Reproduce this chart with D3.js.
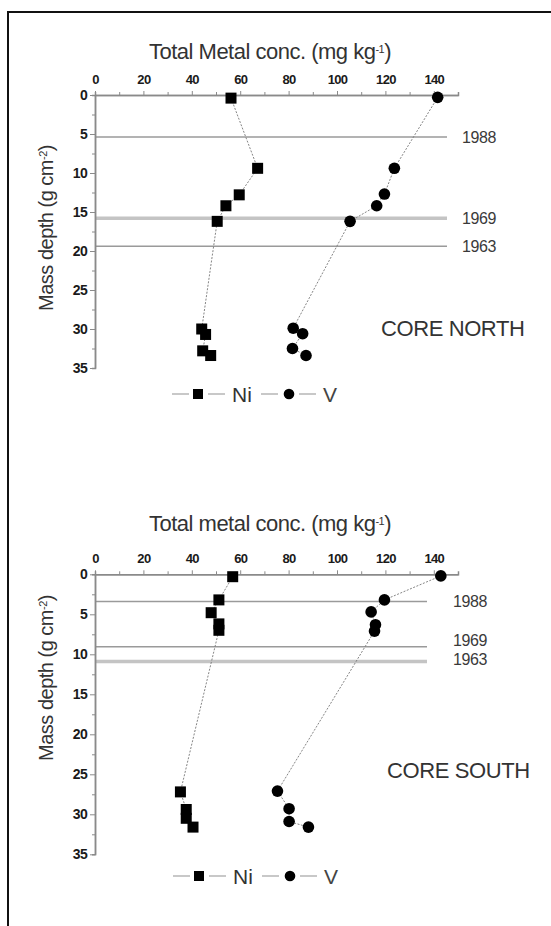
<!DOCTYPE html>
<html>
<head>
<meta charset="utf-8">
<script src="https://cdn.jsdelivr.net/npm/d3@7"></script>
<style>
  body { margin: 0; background: #fff; }
  svg text { font-family: "Liberation Sans", Arial, sans-serif; }
</style>
</head>
<body>
<div id="chart"></div>
<script>
// ---- data ----
var xTicks = [0, 20, 40, 60, 80, 100, 120, 140];
var yTicks = [0, 5, 10, 15, 20, 25, 30, 35];
var yearLabels = ["1988", "1969", "1963"];

// core north
var northNiDepth = [0.4, 9.4, 12.8, 14.2, 16.2, 30.0, 30.7, 32.8, 33.4];
var northNi      = [56.2, 67.2, 59.6, 54.1, 50.5, 44.1, 45.7, 44.5, 47.8];
var northVDepth  = [0.3, 9.4, 12.7, 14.2, 16.2, 29.9, 30.6, 32.5, 33.4];
var northV       = [141.6, 123.7, 119.6, 116.4, 105.4, 81.9, 85.8, 81.6, 87.2];
var northYears   = [5.4, 15.8, 19.4];

// core south
var southNiDepth = [0.3, 3.2, 4.8, 6.2, 7.0, 27.2, 29.4, 30.5, 31.6];
var southNi      = [56.9, 51.2, 48.0, 51.2, 51.2, 35.3, 37.7, 37.7, 40.5];
var southVDepth  = [0.2, 3.2, 4.7, 6.3, 7.1, 27.1, 29.3, 30.9, 31.6];
var southV       = [142.9, 119.6, 114.1, 115.9, 115.5, 75.4, 80.2, 80.2, 88.2];
var southYears   = [3.4, 9.05, 10.9];
var southYearText = [3.4, 8.3, 10.6];   // labels nudged apart in the original

var width = 551, height = 926;

var svg = d3.select("#chart")
  .append("svg")
    .attr("width", width)
    .attr("height", height);

// frame (only top and left edges show in the scan)
svg.append("line").attr("x1", 8).attr("x2", width).attr("y1", 12).attr("y2", 12)
   .attr("stroke", "#111").attr("stroke-width", 2);
svg.append("line").attr("x1", 8).attr("x2", 8).attr("y1", 11).attr("y2", height)
   .attr("stroke", "#111").attr("stroke-width", 2);

function zip(xs, ys) {
  return xs.map(function(v, i) { return {v: v, d: ys[i]}; });
}

function drawPanel(p) {
  var g = svg.append("g");

  var xScale = d3.scaleLinear().domain([0, 150]).range([95, 458]);
  var yScale = d3.scaleLinear().domain([0, 35]).range(p.yRange);

  // title
  var t = g.append("text")
    .attr("x", 270).attr("y", p.titleY)
    .attr("text-anchor", "middle")
    .attr("font-size", "22px")
    .attr("letter-spacing", "-0.5px")
    .attr("fill", "#333")
    .text(p.title + " (mg kg");
  t.append("tspan").attr("baseline-shift", "super").attr("font-size", "11px").text("-1");
  t.append("tspan").text(")");

  // y label
  var yl = g.append("text")
    .attr("transform", "translate(53," + p.yLabelY + ") rotate(-90)")
    .attr("text-anchor", "middle")
    .attr("font-size", "20px")
    .attr("letter-spacing", "-0.5px")
    .attr("fill", "#333")
    .text("Mass depth (g cm");
  yl.append("tspan").attr("baseline-shift", "super").attr("font-size", "11px").text("-2");
  yl.append("tspan").text(")");

  // year horizons
  g.selectAll(".yr")
    .data(p.years)
    .enter()
    .append("line")
      .attr("x1", 95).attr("x2", p.yearEnd)
      .attr("y1", function(d) { return yScale(d); })
      .attr("y2", function(d) { return yScale(d); })
      .attr("stroke", function(d, i) { return i == p.wide ? "#c4c4c4" : "#9a9a9a"; })
      .attr("stroke-width", function(d, i) { return i == p.wide ? 3.5 : 1.5; });

  g.selectAll(".yrlab")
    .data(p.yearText)
    .enter()
    .append("text")
      .attr("x", p.yearLabelX)
      .attr("y", function(d) { return yScale(d); })
      .attr("dy", "0.36em")
      .attr("font-size", "16px")
      .attr("letter-spacing", "-0.4px")
      .attr("fill", "#3a3a3a")
      .text(function(d, i) { return yearLabels[i]; });

  // axes
  var xAxis = g.append("g")
    .attr("transform", "translate(0," + yScale(0) + ")")
    .call(d3.axisTop(xScale).tickValues(xTicks).tickSize(4).tickPadding(7).tickSizeOuter(0));
  var xMinor = g.append("g")
    .attr("transform", "translate(0," + yScale(0) + ")")
    .call(d3.axisTop(xScale).tickValues(d3.range(10, 150, 20)).tickSize(3).tickFormat(""));
  var yAxis = g.append("g")
    .attr("transform", "translate(95,0)")
    .call(d3.axisLeft(yScale).tickValues(yTicks).tickSize(5).tickPadding(3).tickSizeOuter(0));
  var yMinor = g.append("g")
    .attr("transform", "translate(95,0)")
    .call(d3.axisLeft(yScale).tickValues(d3.range(2.5, 35, 5)).tickSize(3).tickFormat(""));

  [xAxis, xMinor, yAxis, yMinor].forEach(function(a) {
    a.select(".domain").attr("stroke", "#8a8a8a").attr("stroke-width", 1.5);
    a.selectAll(".tick line").attr("stroke", "#8a8a8a");
    a.selectAll("text")
      .attr("font-family", "'Liberation Sans', Arial, sans-serif")
      .attr("font-size", "13px")
      .attr("font-weight", "bold")
      .attr("letter-spacing", "-0.7px")
      .attr("fill", "#1a1a1a");
  });
  yAxis.selectAll("text").attr("font-size", "14px");

  // connecting lines
  var line = d3.line()
    .x(function(d) { return xScale(d.v); })
    .y(function(d) { return yScale(d.d); });

  [p.ni, p.vv].forEach(function(s) {
    g.append("path")
      .attr("d", line(s))
      .attr("fill", "none")
      .attr("stroke", "#777")
      .attr("stroke-width", 0.9)
      .attr("stroke-dasharray", "2,1.5");
  });

  // markers
  g.selectAll(".ni")
    .data(p.ni)
    .enter()
    .append("rect")
      .attr("x", function(d) { return xScale(d.v) - 5.5; })
      .attr("y", function(d) { return yScale(d.d) - 5.5; })
      .attr("width", 11).attr("height", 11)
      .attr("fill", "#000");

  g.selectAll(".v")
    .data(p.vv)
    .enter()
    .append("circle")
      .attr("cx", function(d) { return xScale(d.v); })
      .attr("cy", function(d) { return yScale(d.d); })
      .attr("r", 5.8)
      .attr("fill", "#000");

  // core name
  g.append("text")
    .attr("x", p.coreX).attr("y", p.coreY)
    .attr("dy", "0.36em")
    .attr("font-size", "22px")
    .attr("letter-spacing", "-0.4px")
    .attr("fill", "#333")
    .text(p.core);

  // legend
  var lx = p.legendX, ly = p.legendY;
  var lg = g.append("g").attr("transform", "translate(" + lx + "," + ly + ")");
  [[0, 17], [36, 53], [89, 106], [127, 144]].forEach(function(s) {
    lg.append("line").attr("x1", s[0]).attr("x2", s[1]).attr("y1", 0).attr("y2", 0)
      .attr("stroke", "#c8c8c8").attr("stroke-width", 2);
  });
  lg.append("rect").attr("x", 21).attr("y", -5).attr("width", 10).attr("height", 10).attr("fill", "#000");
  lg.append("circle").attr("cx", 117).attr("cy", 0).attr("r", 5.3).attr("fill", "#000");
  lg.append("text").attr("x", 60).attr("y", 0).attr("dy", "0.36em")
    .attr("font-size", "21px").attr("fill", "#333").text("Ni");
  lg.append("text").attr("x", 151).attr("y", 0).attr("dy", "0.36em")
    .attr("font-size", "21px").attr("fill", "#444").text("V");
}

drawPanel({
  title: "Total Metal conc.", titleY: 59,
  yRange: [95, 368], yLabelY: 228,
  years: northYears, yearText: northYears, wide: 1,
  yearEnd: 447, yearLabelX: 462,
  ni: zip(northNi, northNiDepth), vv: zip(northV, northVDepth),
  core: "CORE NORTH", coreX: 381, coreY: 328,
  legendX: 172, legendY: 394
});

drawPanel({
  title: "Total metal conc.", titleY: 531,
  yRange: [574.3, 854.3], yLabelY: 678,
  years: southYears, yearText: southYearText, wide: 2,
  yearEnd: 427, yearLabelX: 453,
  ni: zip(southNi, southNiDepth), vv: zip(southV, southVDepth),
  core: "CORE SOUTH", coreX: 387, coreY: 770,
  legendX: 173, legendY: 876
});
</script>
</body>
</html>
